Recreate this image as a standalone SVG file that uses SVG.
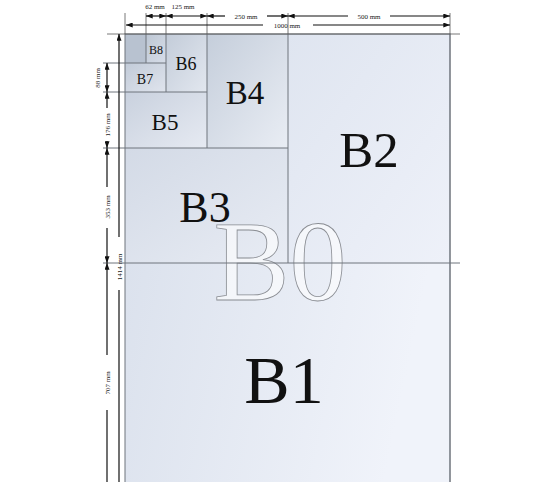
<svg xmlns="http://www.w3.org/2000/svg" width="546" height="482" viewBox="0 0 546 482">
<style>
.lbl{font-family:"Liberation Serif","Times New Roman",serif;fill:#111;text-anchor:middle}
.dim{font-family:"Liberation Serif","Times New Roman",serif;font-size:7px;fill:#222;text-anchor:middle}
.edge{stroke:#6f747c;stroke-width:1;fill:none}
.ext{stroke:#555;stroke-width:0.8;fill:none}
.dl{stroke:#111;stroke-width:1.2;fill:none}
</style>
<defs>
<marker id="ah" viewBox="0 0 8 6" markerWidth="7" markerHeight="5" refX="8" refY="3" orient="auto-start-reverse" markerUnits="userSpaceOnUse">
<path d="M0,0 L8,3 L0,6 z" fill="#111"/>
</marker>
<linearGradient id="gSheet" x1="0" y1="0" x2="1" y2="0.3">
<stop offset="0" stop-color="#d8dfeb"/>
<stop offset="1" stop-color="#f0f3fa"/>
</linearGradient>
<linearGradient id="gB2" x1="0" y1="0" x2="1" y2="1">
<stop offset="0" stop-color="#dfe5f0"/>
<stop offset="1" stop-color="#eef1f9"/>
</linearGradient>
<linearGradient id="gB3" x1="0" y1="0" x2="1" y2="1">
<stop offset="0" stop-color="#d3dae6"/>
<stop offset="1" stop-color="#e8ecf4"/>
</linearGradient>
<linearGradient id="gB4" x1="0" y1="0" x2="1" y2="1">
<stop offset="0" stop-color="#c5cedb"/>
<stop offset="1" stop-color="#e9edf4"/>
</linearGradient>
<linearGradient id="gB5" x1="0" y1="0" x2="1" y2="1">
<stop offset="0" stop-color="#c9d1de"/>
<stop offset="1" stop-color="#e6eaf2"/>
</linearGradient>
<linearGradient id="gB6" x1="0" y1="0" x2="1" y2="1">
<stop offset="0" stop-color="#c3ccd9"/>
<stop offset="1" stop-color="#e2e7ef"/>
</linearGradient>
<linearGradient id="gB7" x1="0" y1="0" x2="1" y2="1">
<stop offset="0" stop-color="#c2cbd8"/>
<stop offset="1" stop-color="#dfe4ed"/>
</linearGradient>
<linearGradient id="gB8" x1="0" y1="0" x2="1" y2="1">
<stop offset="0" stop-color="#bdc7d4"/>
<stop offset="1" stop-color="#d7dde8"/>
</linearGradient>
</defs>
<rect width="546" height="482" fill="#fff"/>

<g id="B0">
<rect x="125" y="34" width="325" height="460" fill="url(#gSheet)"/>
</g>
<g id="B1">
<rect x="125" y="263" width="325" height="230" fill="url(#gSheet)" opacity="0"/>
<text class="lbl" x="284" y="403" font-size="68">B1</text>
</g>
<g id="B2">
<rect x="288" y="34" width="162" height="229" fill="url(#gB2)"/>
<text class="lbl" x="369" y="167" font-size="51">B2</text>
</g>
<g id="B3">
<rect x="125" y="148" width="163" height="115" fill="url(#gB3)"/>
<text class="lbl" x="205" y="222" font-size="44">B3</text>
</g>
<g id="B4">
<rect x="207" y="34" width="81" height="114" fill="url(#gB4)"/>
<text class="lbl" x="245" y="104" font-size="33">B4</text>
</g>
<g id="B5">
<rect x="125" y="92" width="82" height="56" fill="url(#gB5)"/>
<text class="lbl" x="165" y="130" font-size="23">B5</text>
</g>
<g id="B6">
<rect x="166" y="34" width="41" height="58" fill="url(#gB6)"/>
<text class="lbl" x="186" y="70" font-size="18">B6</text>
</g>
<g id="B7">
<rect x="125" y="63" width="41" height="29" fill="url(#gB7)"/>
<text class="lbl" x="145" y="84" font-size="14">B7</text>
</g>
<g id="B8">
<rect x="146" y="34" width="20" height="29" fill="url(#gB8)"/>
<text class="lbl" x="156" y="54" font-size="12">B8</text>
</g>
<g id="B9">
<rect x="125" y="34" width="21" height="29" fill="#b8c2d0"/>
</g>

<g id="B0label">
<text x="280" y="300" font-family="Liberation Serif, Times New Roman, serif" font-size="114" text-anchor="middle" fill="#ffffff" fill-opacity="0.6" stroke="#8a8d93" stroke-width="0.8">B0</text>
</g>

<g id="edges">
<rect class="edge" x="125" y="34" width="325" height="460"/>
<line class="edge" x1="103" y1="263" x2="460" y2="263"/>
<line class="edge" x1="288" y1="34" x2="288" y2="263"/>
<line class="edge" x1="103" y1="148" x2="288" y2="148"/>
<line class="edge" x1="207" y1="34" x2="207" y2="148"/>
<line class="edge" x1="103" y1="92" x2="207" y2="92"/>
<line class="edge" x1="166" y1="34" x2="166" y2="92"/>
<line class="edge" x1="103" y1="63" x2="166" y2="63"/>
<line class="edge" x1="146" y1="34" x2="146" y2="63"/>
<line class="edge" x1="450" y1="34" x2="450" y2="482" stroke-width="1.6"/>
</g>

<g id="connectors">
<line class="ext" x1="107" y1="34" x2="460" y2="34"/>
<line class="ext" x1="125" y1="13" x2="125" y2="34"/>
<line class="ext" x1="146" y1="13" x2="146" y2="34"/>
<line class="ext" x1="166" y1="13" x2="166" y2="34"/>
<line class="ext" x1="207" y1="13" x2="207" y2="34"/>
<line class="ext" x1="288" y1="13" x2="288" y2="34"/>
<line class="ext" x1="450" y1="13" x2="450" y2="34"/>

<line class="dl" x1="146" y1="16" x2="166" y2="16" marker-start="url(#ah)" marker-end="url(#ah)"/>
<line class="dl" x1="166" y1="16" x2="207" y2="16" marker-start="url(#ah)" marker-end="url(#ah)"/>
<line class="dl" x1="207" y1="16" x2="225" y2="16" marker-start="url(#ah)"/>
<line class="dl" x1="267" y1="16" x2="288" y2="16" marker-end="url(#ah)"/>
<line class="dl" x1="288" y1="16" x2="348" y2="16" marker-start="url(#ah)"/>
<line class="dl" x1="390" y1="16" x2="450" y2="16" marker-end="url(#ah)"/>
<line class="dl" x1="126" y1="25" x2="263" y2="25" marker-start="url(#ah)"/>
<line class="dl" x1="313" y1="25" x2="450" y2="25" marker-end="url(#ah)"/>

<line class="dl" x1="119" y1="34" x2="119" y2="237" marker-start="url(#ah)"/>
<line class="dl" x1="119" y1="290" x2="119" y2="482"/>
<line class="dl" x1="107" y1="63" x2="107" y2="92" marker-start="url(#ah)" marker-end="url(#ah)"/>
<line class="dl" x1="107" y1="92" x2="107" y2="108" marker-start="url(#ah)"/>
<line class="dl" x1="107" y1="141" x2="107" y2="148" marker-end="url(#ah)"/>
<line class="dl" x1="107" y1="148" x2="107" y2="187" marker-start="url(#ah)"/>
<line class="dl" x1="107" y1="228" x2="107" y2="263" marker-end="url(#ah)"/>
<line class="dl" x1="107" y1="263" x2="107" y2="355" marker-start="url(#ah)"/>
<line class="dl" x1="107" y1="410" x2="107" y2="482"/>
</g>

<g id="dimlabels">
<text class="dim" x="155" y="9">62 mm</text>
<text class="dim" x="183" y="9">125 mm</text>
<text class="dim" x="246" y="18.5">250 mm</text>
<text class="dim" x="369" y="18.5">500 mm</text>
<text class="dim" x="287" y="28">1000 mm</text>
<text class="dim" transform="translate(99.5,78) rotate(-90)">88 mm</text>
<text class="dim" transform="translate(109.5,125) rotate(-90)">176 mm</text>
<text class="dim" transform="translate(109.5,207) rotate(-90)">353 mm</text>
<text class="dim" transform="translate(121.5,267) rotate(-90)">1414 mm</text>
<text class="dim" transform="translate(109.5,383) rotate(-90)">707 mm</text>
</g>
</svg>
